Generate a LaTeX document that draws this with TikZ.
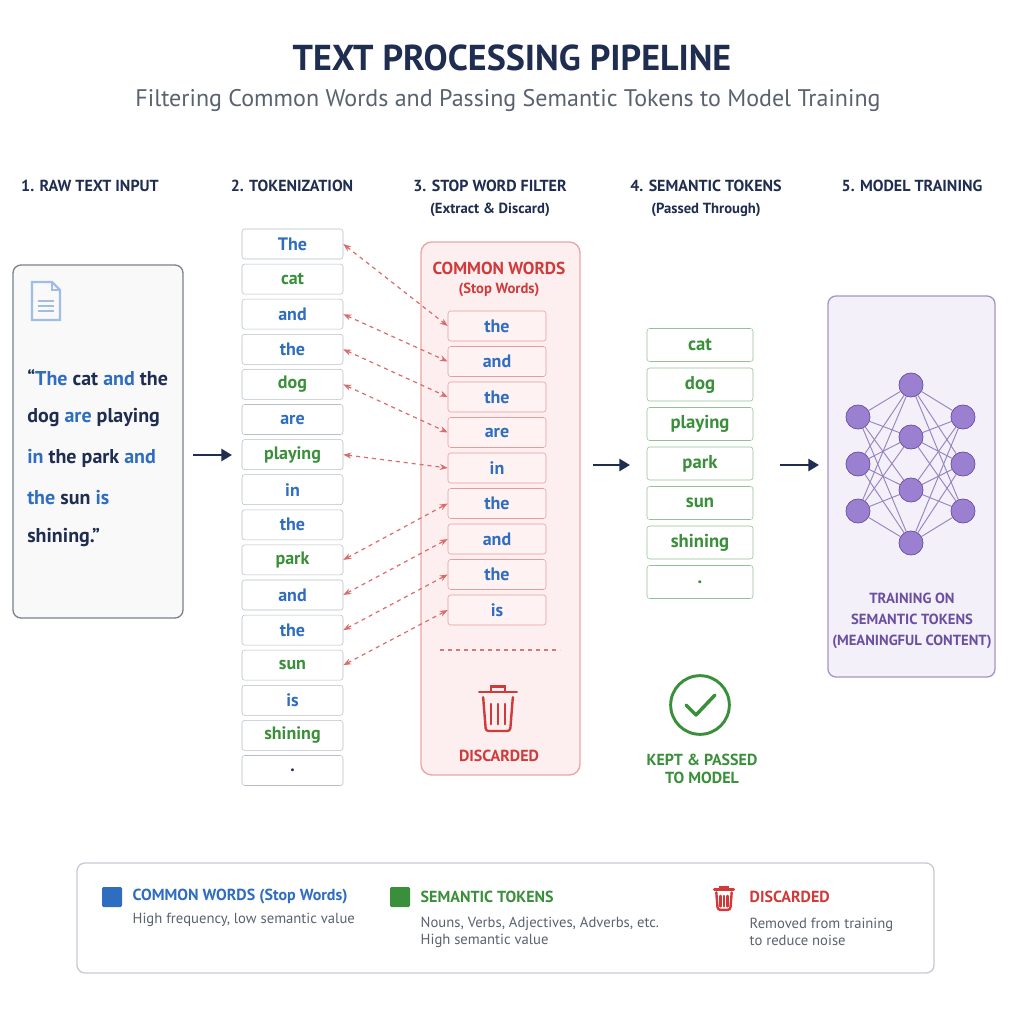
\documentclass[tikz,border=0pt]{standalone}
\usepackage{fontspec}
\setmainfont{PT Sans}
\usetikzlibrary{arrows.meta,positioning}
\definecolor{navy}{HTML}{1F2D50}
\definecolor{tokblue}{HTML}{2F6DC0}
\definecolor{tokgreen}{HTML}{3A8F3A}
\definecolor{stopred}{HTML}{D03A3A}
\definecolor{pinkfill}{HTML}{FDEFEF}
\definecolor{purp}{HTML}{6A4FA0}
\definecolor{lav}{HTML}{F3F0FA}
\definecolor{nnode}{HTML}{9B7FD0}
\definecolor{greyline}{HTML}{B8BEC8}
\definecolor{greytext}{HTML}{5A6270}
\tikzset{
  head/.style={font=\bfseries\fontsize{12}{14}\selectfont, text=navy},
  subhead/.style={font=\bfseries\fontsize{11}{13}\selectfont, text=navy},
  token/.style={draw=greyline, rounded corners=2pt, fill=white, minimum width=75.75pt,
    minimum height=22.5pt, inner sep=0pt, font=\bfseries\fontsize{13.5}{15}\selectfont},
  stopword/.style={draw=stopred!50, rounded corners=2pt, fill=pinkfill!60!red!12, minimum width=73.5pt,
    minimum height=22.5pt, inner sep=0pt, font=\bfseries\fontsize{13.5}{15}\selectfont, text=tokblue},
  semword/.style={draw=tokgreen!55, rounded corners=2pt, fill=white, minimum width=79.5pt,
    minimum height=24.75pt, inner sep=0pt, font=\bfseries\fontsize{14}{15}\selectfont, text=tokgreen},
  flow/.style={-{Triangle[length=8pt,width=9pt]}, line width=2.2pt, draw=navy},
  link/.style={{Stealth[length=6pt]}-{Stealth[length=6pt]}, dashed, draw=stopred!75, line width=0.9pt},
  neuron/.style={circle, fill=nnode, draw=purp, minimum size=18pt, inner sep=0pt},
  legtitle/.style={anchor=west, font=\bfseries\fontsize{12}{14}\selectfont},
  legtext/.style={anchor=west, font=\fontsize{11}{13}\selectfont, text=greytext},
}
\newcommand{\trashcan}[3]{% x, y, scale
  \begin{scope}[shift={(#1,#2)}, scale=#3, draw=stopred, line width=1.8pt, line cap=round]
    \draw (-14,-12) -- (14,-12);
    \draw (-5,-12) -- (-5,-16) -- (5,-16) -- (5,-12);
    \draw[rounded corners=2pt] (-11,-8) -- (-9,17) -- (9,17) -- (11,-8);
    \foreach \xx in {-5,0,5} \draw (\xx,-3) -- (\xx,12);
  \end{scope}}
\begin{document}
\begin{tikzpicture}[x=0.75pt, y=-0.75pt]
\useasboundingbox (0,0) rectangle (1024,1024);
\fill[white] (0,0) rectangle (1024,1024);

% title
\node[font=\bfseries\fontsize{27}{30}\selectfont, text=navy] (title) at (512,58) {TEXT PROCESSING PIPELINE};
\node[font=\fontsize{18}{21}\selectfont, text=greytext] (subtitle) at (508,100) {Filtering Common Words and Passing Semantic Tokens to Model Training};

% column headings
\node[head] (h1) at (90,186) {1. RAW TEXT INPUT};
\node[head] (h2) at (292,186) {2. TOKENIZATION};
\node[head] (h3) at (490,186) {3. STOP WORD FILTER};
\node[subhead] (h3b) at (490,210) {(Extract \& Discard)};
\node[head] (h4) at (706,186) {4. SEMANTIC TOKENS};
\node[subhead] (h4b) at (706,210) {(Passed Through)};
\node[head] (h5) at (912,186) {5. MODEL TRAINING};

% raw text
\draw[draw=greytext!80, fill=gray!5, rounded corners=6pt, line width=1pt] (13,265) rectangle (183,618);
\begin{scope}[shift={(46,301)}, draw=tokblue!45, line width=1.8pt]
  \draw (-14,-19) -- (6,-19) -- (14,-11) -- (14,19) -- (-14,19) -- cycle;
  \draw (6,-19) -- (6,-11) -- (14,-11);
  \foreach \yy in {0,5,10} \draw (-8,\yy) -- (8,\yy);
\end{scope}
\begin{scope}[every node/.style={anchor=west, font=\bfseries\fontsize{15}{18}\selectfont, text=navy, inner sep=0pt}]
  \node (l1) at (27,378) {“\textcolor{tokblue}{The} cat \textcolor{tokblue}{and} the};
  \node (l2) at (27,418) {dog \textcolor{tokblue}{are} playing};
  \node (l3) at (27,458) {\textcolor{tokblue}{in} the park \textcolor{tokblue}{and}};
  \node (l4) at (27,498) {\textcolor{tokblue}{the} sun \textcolor{tokblue}{is}};
  \node (l5) at (27,538) {shining.”};
\end{scope}
\coordinate (a1s) at (193,455); \coordinate (a1e) at (232,455);
\draw[flow] (a1s) -- (a1e);

% tokens
\foreach \w/\c [count=\i] in {The/tokblue, cat/tokgreen, and/tokblue, the/tokblue, dog/tokgreen,
  are/tokblue, playing/tokgreen, in/tokblue, the/tokblue, park/tokgreen, and/tokblue, the/tokblue,
  sun/tokgreen, is/tokblue, shining/tokgreen, ./navy}
  \node[token, text=\c] (t\i) at (292.5,{244+(\i-1)*35.1}) {\w};

% stop word filter
\draw[draw=stopred!45, fill=pinkfill, rounded corners=8pt, line width=1pt] (421,242) rectangle (580,775);
\node[font=\bfseries\fontsize{13}{15}\selectfont, text=stopred] (cw) at (499,268) {COMMON WORDS};
\node[font=\bfseries\fontsize{11}{13}\selectfont, text=stopred] (cws) at (499,290) {(Stop Words)};
\foreach \w [count=\i] in {the,and,the,are,in,the,and,the,is}
  \node[stopword] (s\i) at (497,{326+(\i-1)*35.5}) {\w};
\foreach \a/\b in {1/1, 3/2, 4/3, 5/4, 7/5, 10/6, 11/7, 12/8, 13/9}
  \draw[link] (t\a.east) -- (s\b.west);
\draw[dashed, draw=stopred!70, thick] (440,650) -- (560,650);
\trashcan{498}{708}{1.35}
\node[font=\bfseries\fontsize{12}{14}\selectfont, text=stopred] (disc) at (499,756) {DISCARDED};
\coordinate (a2s) at (593,465); \coordinate (a2e) at (630,465);
\draw[flow] (a2s) -- (a2e);

% semantic tokens
\foreach \w [count=\i] in {cat,dog,playing,park,sun,shining,.}
  \node[semword] (k\i) at (700,{345+(\i-1)*39.5}) {\w};
\node[circle, draw=tokgreen, line width=2.2pt, minimum size=44pt] (ok) at (700,705) {};
\draw[draw=tokgreen, line width=2.6pt, line cap=round, line join=round] (686,705) -- (696,715) -- (715,695);
\node[font=\bfseries\fontsize{12}{14}\selectfont, text=tokgreen, align=center] (kept) at (702,769) {KEPT \& PASSED\\TO MODEL};
\coordinate (a3s) at (780,465); \coordinate (a3e) at (819,465);
\draw[flow] (a3s) -- (a3e);

% model training
\draw[draw=purp!60, fill=lav, rounded corners=6pt, line width=1pt] (828,296) rectangle (995,677);
\foreach \yy [count=\i] in {417,464,511} \node[neuron] (nl\i) at (858,\yy) {};
\foreach \yy [count=\i] in {385,437,490,543} \node[neuron] (nm\i) at (911,\yy) {};
\foreach \yy [count=\i] in {417,464,511} \node[neuron] (nr\i) at (963,\yy) {};
\foreach \i in {1,2,3} \foreach \j in {1,...,4} {
  \draw[purp!70, line width=0.7pt] (nl\i) -- (nm\j);
  \draw[purp!70, line width=0.7pt] (nr\i) -- (nm\j);
}
\foreach \i in {1,2,3} \node[neuron] at (nl\i) {};
\foreach \i in {1,...,4} \node[neuron] at (nm\i) {};
\foreach \i in {1,2,3} \node[neuron] at (nr\i) {};
\node[font=\bfseries\fontsize{11}{15.5}\selectfont, text=purp, align=center] (train) at (912,621)
  {TRAINING ON\\SEMANTIC TOKENS\\(MEANINGFUL CONTENT)};

% legend
\draw[draw=greyline!80, rounded corners=6pt, line width=1pt] (77,863) rectangle (934,973);
\node[fill=tokblue, minimum size=15pt, inner sep=0pt, rounded corners=1pt] (lgb) at (112,897) {};
\node[legtitle, text=tokblue] (lgbt) at (128,897) {COMMON WORDS (Stop Words)};
\node[legtext] (lgbx) at (128,920) {High frequency, low semantic value};
\node[fill=tokgreen, minimum size=15pt, inner sep=0pt, rounded corners=1pt] (lgg) at (400,897) {};
\node[legtitle, text=tokgreen] (lggt) at (416,897) {SEMANTIC TOKENS};
\node[legtext, align=left] (lggx) at (416,932) {Nouns, Verbs, Adjectives, Adverbs, etc.\\High semantic value};
\trashcan{724}{898}{0.7}
\node[legtitle, text=stopred] (lgrt) at (745,897) {DISCARDED};
\node[legtext, align=left] (lgrx) at (745,932) {Removed from training\\to reduce noise};
\end{tikzpicture}
\end{document}
